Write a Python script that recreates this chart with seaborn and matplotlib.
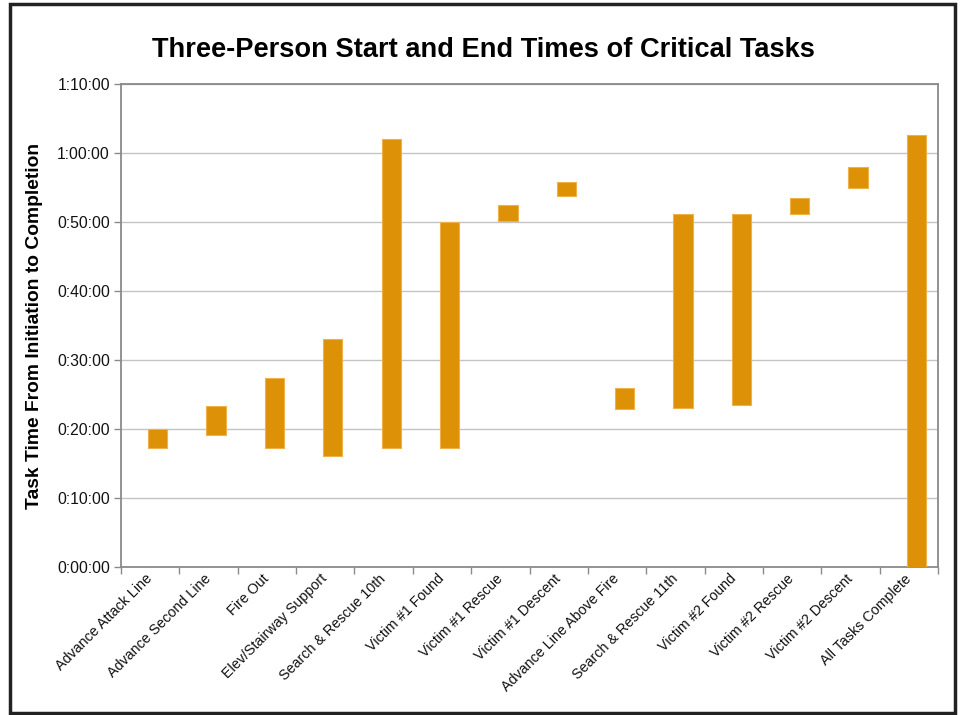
import matplotlib
matplotlib.use("Agg")
import matplotlib.pyplot as plt
import seaborn as sns
import pandas as pd
import numpy as np
from matplotlib.ticker import FuncFormatter, FixedLocator
from matplotlib.patches import Rectangle

tasks = ["Advance Attack Line", "Advance Second Line", "Fire Out",
         "Elev/Stairway Support", "Search & Rescue 10th", "Victim #1 Found",
         "Victim #1 Rescue", "Victim #1 Descent", "Advance Line Above Fire",
         "Search & Rescue 11th", "Victim #2 Found", "Victim #2 Rescue",
         "Victim #2 Descent", "All Tasks Complete"]
# minutes from initiation
start_min = [17.3, 19.2, 17.3, 16.1, 17.3, 17.3, 50.1, 53.7, 22.9, 23.0, 23.5, 51.2, 54.9, 0.0]
end_min = [20.0, 23.4, 27.45, 33.1, 62.0, 50.0, 52.5, 55.8, 25.9, 51.1, 51.1, 53.55, 58.0, 62.6]
y_ticks_min = [0, 10, 20, 30, 40, 50, 60, 70]

sns.set_theme(style="white")
plt.rcParams['font.family'] = ['Liberation Sans', 'DejaVu Sans']

df = pd.DataFrame({"task": tasks, "start": start_min, "end": end_min})
df["duration"] = df["end"] - df["start"]

W, H = 961, 715
fig = plt.figure(figsize=(W / 100, H / 100), dpi=100)
fig.patch.set_facecolor("white")
ax = fig.add_axes([121 / W, 1 - 567 / H, (938 - 121) / W, (567 - 84) / H])

sns.barplot(data=df, x="task", y="duration", bottom=df["start"].to_numpy(),
            color="#DD9106", saturation=1, width=0.33, edgecolor="#EFB24A",
            linewidth=0.8, ax=ax, zorder=3)
for p in ax.patches:
    p.set_x(p.get_x() + 0.13)

ax.set_xlim(-0.5, len(tasks) - 0.5)
ax.set_ylim(0, 70)
ax.yaxis.set_major_locator(FixedLocator(y_ticks_min))


def fmt(v, pos):
    m = int(round(v))
    return f"{m // 60}:{m % 60:02d}:00"


ax.yaxis.set_major_formatter(FuncFormatter(fmt))
ax.set_axisbelow(True)
ax.yaxis.grid(True, color="#c4c4c4", linewidth=1.0)
ax.xaxis.grid(False)
for s in ax.spines.values():
    s.set_visible(True)
    s.set_color("#8a8a8a")
    s.set_linewidth(1.3)

ax.xaxis.set_minor_locator(FixedLocator(np.arange(-0.5, len(tasks), 1.0)))
ax.tick_params(axis="x", which="major", length=0, pad=7)
ax.tick_params(axis="x", which="minor", length=5, width=1, color="#8a8a8a", direction="out", bottom=True)
ax.tick_params(axis="y", which="major", length=5, width=1, color="#8a8a8a", direction="out",
               left=True, labelsize=11.3, pad=3, labelcolor="#111111")
ax.set_xticks(range(len(tasks)))
ax.set_xticklabels(tasks, rotation=45, ha="right", va="center", rotation_mode="anchor",
                   fontsize=10.3, color="#111111")
ax.set_xlabel("")
ax.set_ylabel("Task Time From Initiation to Completion", fontsize=13.9, fontweight="bold",
              labelpad=10, color="black")

fig.text(483 / W, 1 - 50 / H, "Three-Person Start and End Times of Critical Tasks",
         ha="center", va="center", fontsize=19.6, fontweight="bold", color="black")

fig.patches.append(Rectangle((10 / W, 1 - 713 / H), (955 - 10) / W, (713 - 4) / H,
                             transform=fig.transFigure, fill=False, edgecolor="#222222",
                             linewidth=2.5, zorder=10))

fig.savefig("out.png", dpi=100, facecolor="white")
